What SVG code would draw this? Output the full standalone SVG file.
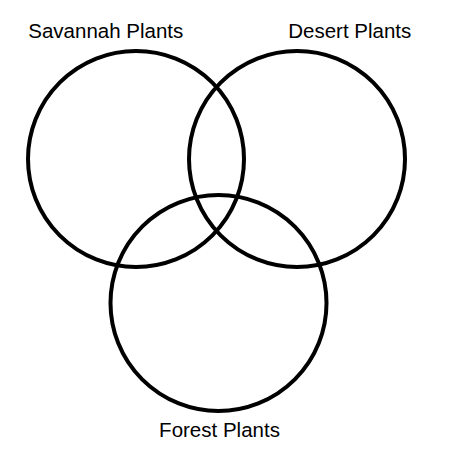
<svg xmlns="http://www.w3.org/2000/svg" width="450" height="450" viewBox="0 0 450 450">
<style>
.c{fill:none;stroke:#000;stroke-width:4}
.t{font-family:"Liberation Sans",Arial,sans-serif;font-size:20.5px;fill:#000;text-anchor:middle}
</style>
<rect width="450" height="450" fill="#fff"/>
<g id="savannah"><circle class="c" cx="136" cy="159" r="108"/><text class="t" x="105.8" y="37.5">Savannah Plants</text></g>
<g id="desert"><circle class="c" cx="297" cy="159" r="108"/><text class="t" x="349.8" y="37.5">Desert Plants</text></g>
<g id="forest"><circle class="c" cx="218.5" cy="303" r="108"/><text class="t" x="219.5" y="437">Forest Plants</text></g>
<g id="connectors"></g>
</svg>
